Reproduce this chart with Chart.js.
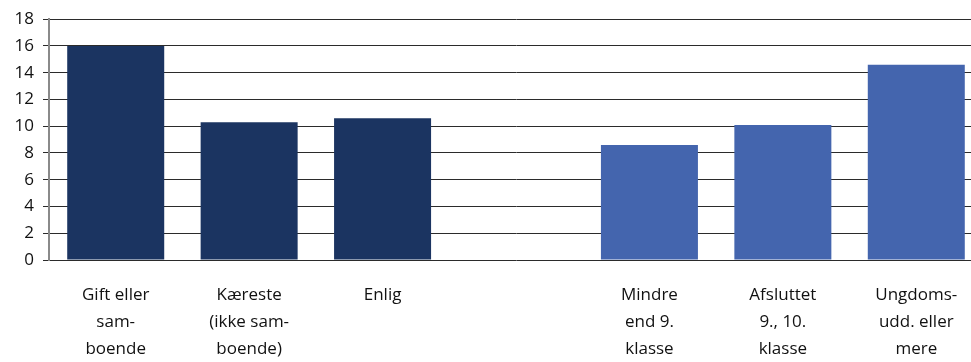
<!DOCTYPE html>
<html>
<head>
<meta charset="utf-8">
<script src="https://cdn.jsdelivr.net/npm/chart.js@4.4.0/dist/chart.umd.min.js"></script>
<style>
  html, body { margin: 0; padding: 0; background: #fff; overflow: hidden; }
  #wrap { width: 983px; height: 362px; }
</style>
</head>
<body>
<div id="wrap"><canvas id="chart"></canvas></div>
<script>
const categories = [
  ['Gift eller', 'sam-', 'boende'],
  ['Kæreste', '(ikke sam-', 'boende)'],
  ['Enlig'],
  '',
  ['Mindre', 'end 9.', 'klasse'],
  ['Afsluttet', '9., 10.', 'klasse'],
  ['Ungdoms-', 'udd. eller', 'mere']
];
const values = [16.0, 10.3, 10.6, null, 8.6, 10.1, 14.6];
const barColors = ['#1b3461', '#1b3461', '#1b3461', '#1b3461', '#4465ae', '#4465ae', '#4465ae'];
const yTicks = { min: 0, max: 18, step: 2 };

document.addEventListener('DOMContentLoaded', () => {
  const ctx = document.getElementById('chart');

  new Chart(ctx, {
    type: 'bar',
    data: {
      labels: categories,
      datasets: [{ data: values, backgroundColor: barColors, borderWidth: 0 }]
    },
    options: {
      responsive: true,
      maintainAspectRatio: false,
      animation: false,
      layout: { padding: { top: 18, right: 0, left: 0, bottom: 0 } },
      plugins: { legend: { display: false }, tooltip: { enabled: false } },
      datasets: { bar: { categoryPercentage: 1, barPercentage: 0.727 } },
      scales: {
        x: {
          grid: { display: false, drawTicks: false },
          border: { display: false },
          ticks: {
            color: '#111',
            font: { family: 'Open Sans', size: 17, lineHeight: 1.59 },
            padding: 22,
            maxRotation: 0,
            autoSkip: false
          },
          afterFit: s => { s.height = 102; }
        },
        y: {
          min: yTicks.min,
          max: yTicks.max,
          grid: { color: '#2b2b2b', lineWidth: 1, tickLength: 6, tickColor: '#2b2b2b' },
          border: { display: true, color: '#8a8a8a', width: 2 },
          ticks: {
            stepSize: yTicks.step,
            color: '#111',
            font: { family: 'Open Sans', size: 17 },
            padding: 9
          },
          afterFit: s => { s.width = 49; }
        }
      }
    }
  });
});
</script>
</body>
</html>
